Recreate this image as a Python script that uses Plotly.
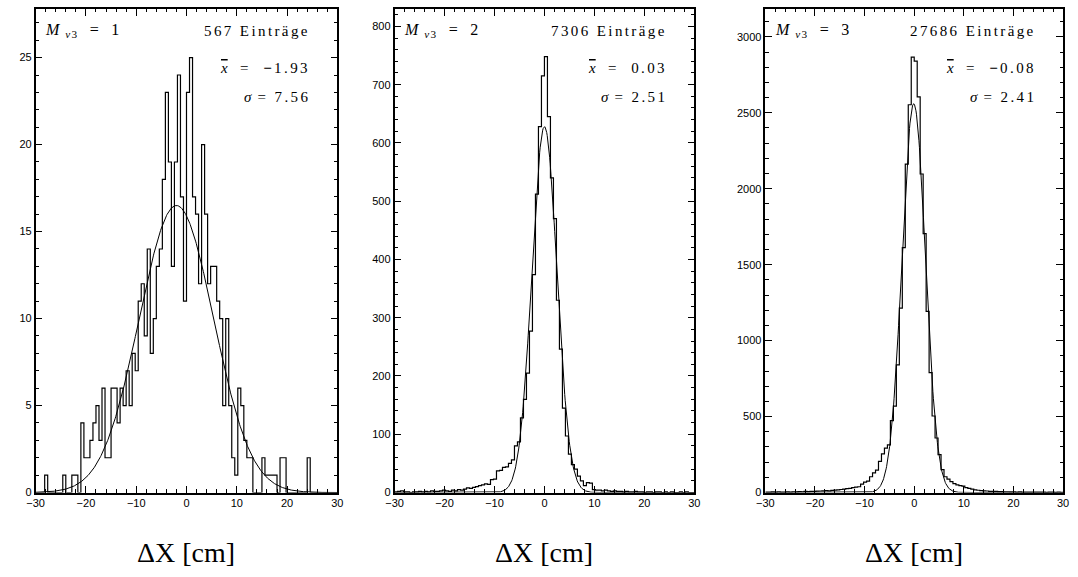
import numpy as np
import plotly.graph_objects as go

# ---------------- data ----------------
x_min, x_max, n_bins = -30.0, 30.0, 100

panel_labels = ["1", "2", "3"]
entries = [567, 7306, 27686]
mean_signs = ["−", "", "−"]
mean_values = ["1.93", "0.03", "0.08"]
sigma_texts = ["7.56", "2.51", "2.41"]

counts_m1 = [
    0, 0, 0, 1, 0, 0, 0, 0, 0, 1,
    0, 0, 1, 1, 0, 4, 2, 2, 3, 4,
    5, 3, 6, 2, 2, 6, 6, 4, 6, 5,
    7, 5, 8, 7, 11, 12, 9, 14, 8, 10,
    13, 14, 18, 23, 19, 13, 19, 24, 17, 11,
    23, 25, 17, 16, 12, 20, 16, 12, 13, 13,
    11, 10, 5, 10, 5, 2, 1, 6, 5, 3,
    2, 2, 0, 0, 0, 2, 1, 1, 1, 1,
    0, 2, 2, 0, 0, 0, 0, 0, 0, 0,
    2, 0, 0, 0, 0, 0, 0, 0, 0, 0,
]
counts_m2 = [
    1, 2, 3, 1, 1, 0, 1, 1, 2, 1,
    2, 1, 3, 2, 2, 3, 4, 3, 2, 4,
    3, 5, 4, 6, 8, 7, 9, 10, 12, 13,
    15, 14, 22, 23, 37, 38, 43, 44, 50, 56,
    80, 87, 128, 160, 205, 277, 374, 512, 628, 715,
    748, 645, 540, 470, 330, 246, 145, 97, 66, 48,
    40, 28, 20, 12, 17, 16, 5, 4, 4, 3,
    4, 3, 2, 3, 2, 2, 1, 2, 1, 1,
    2, 1, 1, 0, 1, 1, 0, 1, 1, 0,
    1, 0, 1, 0, 0, 1, 0, 1, 0, 0,
]
counts_m3 = [
    3, 2, 4, 3, 5, 2, 3, 4, 3, 5,
    4, 6, 5, 7, 6, 8, 7, 9, 10, 11,
    12, 11, 14, 16, 18, 20, 22, 26, 28, 32,
    36, 38, 55, 68, 75, 104, 130, 147, 205, 255,
    292, 314, 474, 569, 840, 1214, 1612, 2162, 2553, 2866,
    2840, 2605, 2097, 1704, 1193, 790, 504, 359, 249, 151,
    104, 88, 72, 58, 50, 45, 42, 32, 28, 22,
    18, 15, 13, 11, 10, 8, 8, 7, 6, 6,
    5, 5, 4, 5, 3, 4, 3, 3, 2, 3,
    2, 3, 2, 2, 1, 2, 2, 1, 2, 1,
]
all_counts = [counts_m1, counts_m2, counts_m3]

# Gaussian fit parameters (amplitude, mean, sigma)
fit_amp = [16.5, 628.0, 2560.0]
fit_mean = [-2.0, 0.0, -0.1]
fit_sigma = [7.4, 2.5, 2.35]

y_max = [27.8, 830.0, 3184.0]
y_dtick = [5, 100, 500]
y_minor = [1, 20, 100]

# ---------------- layout geometry ----------------
W, H = 1078, 577
x_domains = [[27 / W, 333 / W], [391 / W, 695 / W], [767 / W, 1069 / W]]
y_domain = [1 - 497.7 / H, 1 - 9 / H]

tick_font = dict(family="Liberation Sans Narrow, Liberation Sans, Arial", size=11, color="#000000")
serif = "Liberation Serif, DejaVu Serif, serif"

edges = np.linspace(x_min, x_max, n_bins + 1)
xs_fit = np.linspace(x_min, x_max, 600)

fig = go.Figure()
layout_axes = {}
annotations = []

for i in range(3):
    sfx = "" if i == 0 else str(i + 1)
    xa, ya = "x" + sfx, "y" + sfx
    counts = np.asarray(all_counts[i], dtype=float)
    step_y = np.append(counts, counts[-1])
    fig.add_trace(go.Scatter(x=edges, y=step_y, mode="lines", line_shape="hv",
                             line=dict(color="black", width=1.2),
                             xaxis=xa, yaxis=ya, showlegend=False, hoverinfo="skip"))
    yfit = fit_amp[i] * np.exp(-0.5 * ((xs_fit - fit_mean[i]) / fit_sigma[i]) ** 2)
    fig.add_trace(go.Scatter(x=xs_fit, y=yfit, mode="lines",
                             line=dict(color="black", width=1),
                             xaxis=xa, yaxis=ya, showlegend=False, hoverinfo="skip"))

    layout_axes["xaxis" + sfx] = dict(
        domain=x_domains[i], anchor=ya, range=[x_min, x_max],
        tickmode="linear", tick0=-30, dtick=10,
        ticks="inside", ticklen=7, tickwidth=1, tickcolor="black",
        minor=dict(tickmode="linear", tick0=-30, dtick=2, ticks="inside",
                   ticklen=3.5, tickwidth=1, tickcolor="black", showgrid=False),
        showline=True, linecolor="black", linewidth=1.5, mirror="ticks",
        showgrid=False, zeroline=False, tickfont=tick_font, fixedrange=True,
    )
    layout_axes["yaxis" + sfx] = dict(
        domain=y_domain, anchor=xa, range=[0, y_max[i]],
        tickmode="linear", tick0=0, dtick=y_dtick[i],
        ticks="inside", ticklen=7, tickwidth=1, tickcolor="black",
        minor=dict(tickmode="linear", tick0=0, dtick=y_minor[i], ticks="inside",
                   ticklen=3.5, tickwidth=1, tickcolor="black", showgrid=False),
        showline=True, linecolor="black", linewidth=1.5, mirror="ticks",
        showgrid=False, zeroline=False, tickfont=tick_font, fixedrange=True,
    )

    xd = xa + " domain"
    yd = ya + " domain"
    txt_font = dict(family=serif, size=15, color="black")
    sp = "letter-spacing:2.4px"
    sign_html = f"<b>{mean_signs[i]}</b>" if mean_signs[i] else ""
    annotations += [
        dict(xref=xd, yref=yd, x=0.025, y=0.955, xanchor="left", yanchor="middle",
             showarrow=False, font=dict(family=serif, size=16, color="black"),
             text=f"<span style='letter-spacing:1.5px'><i>M</i><sub> <i>v</i>3</sub>  =  {panel_labels[i]}</span>"),
        dict(xref=xd, yref=yd, x=0.915, y=0.955, xanchor="right", yanchor="middle",
             showarrow=False, font=txt_font,
             text=f"<span style='{sp}'>{entries[i]} Einträge</span>"),
        dict(xref=xd, yref=yd, x=0.915, y=0.877, xanchor="right", yanchor="middle",
             showarrow=False, font=txt_font,
             text=f"<span style='text-decoration:overline'><i>x</i></span>"
                  f"<span style='{sp}'>  =  {sign_html}{mean_values[i]}</span>"),
        dict(xref=xd, yref=yd, x=0.915, y=0.818, xanchor="right", yanchor="middle",
             showarrow=False, font=txt_font,
             text=f"<i>σ</i><span style='{sp}'> = {sigma_texts[i]}</span>"),
        dict(xref=xd, yref="paper", x=0.5, y=1 - 558 / H, xanchor="center", yanchor="middle",
             showarrow=False, font=dict(family=serif, size=28, color="black"),
             text="ΔX [cm]"),
    ]

fig.update_layout(
    width=W, height=H, margin=dict(l=0, r=0, t=0, b=0),
    paper_bgcolor="white", plot_bgcolor="white",
    annotations=annotations, showlegend=False,
    **layout_axes,
)

fig.write_html(
    "out.html",
    config={"displayModeBar": False},
    post_script="document.body.style.margin='0';document.body.style.overflow='hidden';",
)
